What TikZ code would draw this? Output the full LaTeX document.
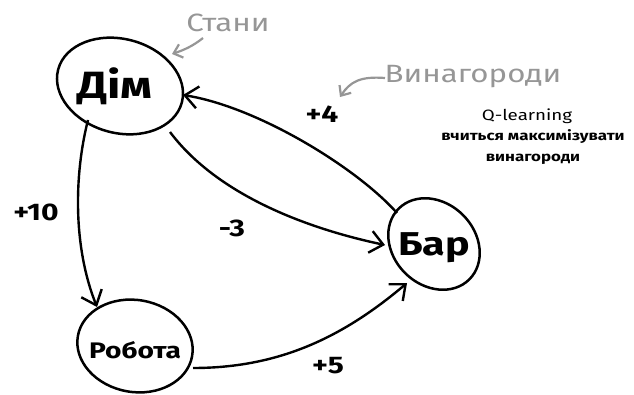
\documentclass[tikz,border=0pt]{standalone}
\usepackage{fontspec}
\setmainfont[FakeStretch=1.25]{Fira Sans}
\usetikzlibrary{shapes.geometric,arrows.meta}
\definecolor{hintgray}{RGB}{150,150,150}
\tikzset{
  blob/.style={draw, ellipse, line width=2.5pt, inner sep=0pt},
  edge/.style={line width=2.4pt, -{Straight Barb[length=13pt,width=22pt,line width=2.4pt]}},
  hint/.style={line width=2.2pt, draw=hintgray, -{Straight Barb[length=8pt,width=14pt,line width=2.2pt]}},
  hinttext/.style={text=hintgray, font=\fontsize{25}{27}\selectfont, inner sep=0pt},
  num/.style={font=\bfseries\fontsize{24}{26}\selectfont, inner sep=0pt},
  note/.style={font=\bfseries\fontsize{13.5}{21}\selectfont, inner sep=0pt, align=center}
}
\begin{document}
\begin{tikzpicture}[x=1pt,y=1pt]
\useasboundingbox (0,0) rectangle (634,394);
% states (shapes)
\node[blob, rotate=-15, minimum width=128pt, minimum height=94pt] (dim) at (120,308) {};
\node[blob, rotate=-45, minimum width=100pt, minimum height=82pt] (bar) at (434,150) {};
\node[blob, rotate=-10, minimum width=116pt, minimum height=92pt] (rob) at (135,48) {};
% state names
\node[font=\bfseries\fontsize{38}{40}\selectfont, inner sep=0pt] (dimt) at (115,308) {Дім};
\node[font=\bfseries\fontsize{33}{35}\selectfont, inner sep=0pt] (bart) at (434,146) {Бар};
\node[font=\bfseries\fontsize{22.5}{26}\selectfont, inner sep=0pt] (robt) at (135,44) {Робота};
% transitions
\coordinate (dimR) at (183,299);
\coordinate (dimBR) at (170,262);
\coordinate (dimBL) at (88,274);
\coordinate (barTL) at (397,181);
\coordinate (barL) at (385,149);
\coordinate (barBL) at (407,111);
\coordinate (robT) at (97,87);
\coordinate (robR) at (193,26);
\draw[edge] (barTL) .. controls +(-40,45) and +(75,-12) .. (dimR);
\draw[edge] (dimBR) .. controls +(45,-60) and +(-85,18) .. (barL);
\draw[edge] (dimBL) .. controls +(-14,-55) and +(-24,60) .. (robT);
\draw[edge] (robR) .. controls +(85,0) and +(-65,-55) .. (barBL);
% rewards
\node[num] (p4) at (322,280) {+4};
\node[num] (m3) at (232,166) {-3};
\node[num] (p10) at (36,182) {+10};
\node[num] (p5) at (328,28) {+5};
% hints
\node[hinttext] (stany) at (228,371) {Стани};
\coordinate (stanyS) at (203,356);
\coordinate (stanyTip) at (172,340);
\draw[hint] (stanyS) .. controls +(-10,-8) and +(12,4) .. (stanyTip);
\node[hinttext] (vyn) at (473,317) {Винагороди};
\coordinate (vynS) at (385,316);
\coordinate (vynTip) at (340,297);
\draw[hint] (vynS) .. controls +(-25,2) and +(10,15) .. (vynTip);
% note
\node[font=\fontsize{15}{17}\selectfont, inner sep=0pt] (ql) at (527,278) {Q-learning};
\node[note] (qn) at (533,247) {вчиться максимізувати\\винагороди};
\end{tikzpicture}
\end{document}
